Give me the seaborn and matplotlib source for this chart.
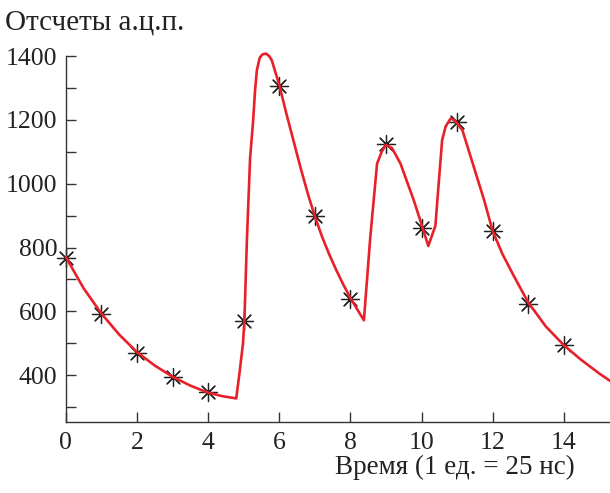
import matplotlib.pyplot as plt
import pandas as pd
import seaborn as sns

# measured points (stars)
t_pts = [0, 1, 2, 3, 4, 5, 6, 7, 8, 9, 10, 11, 12, 13, 14]
counts_pts = [768, 592, 470, 394, 347, 570, 1308, 899, 640, 1125, 862, 1193, 852, 622, 494]

# fitted curve (red)
t_fit = [0, 0.5, 1, 1.5, 2, 2.5, 3, 3.5, 4, 4.4, 4.79, 4.88, 4.98, 5.02, 5.09, 5.18, 5.26,
         5.32, 5.37, 5.45, 5.53, 5.63, 5.72, 5.79, 6.0, 6.2, 6.4, 6.6, 6.8, 7.0, 7.2, 7.4,
         7.6, 7.8, 8.0, 8.2, 8.38,
         8.56, 8.75, 8.88, 8.99, 9.17, 9.41, 9.78, 10.0, 10.19, 10.39, 10.49, 10.58, 10.68,
         10.82, 10.95, 11.15, 11.47, 11.76, 12.0, 12.27, 12.6, 13.0, 13.5, 14.0, 14.5, 15.0, 15.3]
counts_fit = [770, 672, 593, 527, 472, 430, 395, 367, 345, 334, 327, 405, 499, 572, 823, 1081, 1190,
              1293, 1356, 1395, 1406, 1408, 1400, 1387, 1310, 1220, 1135, 1050, 970, 898, 835, 780,
              730, 684, 642, 605, 572,
              833, 1063, 1100, 1122, 1112, 1063, 949, 873, 805, 868, 1011, 1137, 1180,
              1205, 1197, 1168, 1053, 949, 852, 781, 710, 628, 552, 494, 447, 405, 382]

sns.set_style("ticks")
plt.rcParams['font.family'] = ['Liberation Serif', 'DejaVu Serif']

fig = plt.figure(figsize=(6.1, 4.93), dpi=100)
ax = fig.add_axes([0.108, 0.144, 0.892, 0.742])

df_fit = pd.DataFrame({"t": t_fit, "counts": counts_fit})
df_pts = pd.DataFrame({"t": t_pts, "counts": counts_pts})

sns.scatterplot(data=df_pts, x="t", y="counts", ax=ax, marker=(8, 2, 0), s=170,
                color="#222222", edgecolor="#222222", linewidth=0.9, zorder=2, clip_on=False)
sns.lineplot(data=df_fit, x="t", y="counts", ax=ax, color="#e8202a", linewidth=1.9,
             zorder=3, sort=False, clip_on=False)

ax.set_xlim(0, 15.3)
ax.set_ylim(253, 1400)
ax.set_xticks([0, 2, 4, 6, 8, 10, 12, 14])
ax.set_yticks([400, 600, 800, 1000, 1200, 1400])
ax.set_yticks([300, 500, 700, 900, 1100, 1300], minor=True)

ax.tick_params(axis="both", which="both", direction="in", length=7, width=1.0,
               color="#333333", labelsize=18.5, labelcolor="#222222", pad=7)
ax.tick_params(axis="y", pad=6)
for side in ["left", "bottom"]:
    ax.spines[side].set_color("#333333")
    ax.spines[side].set_linewidth(1.0)
sns.despine(ax=ax)

ax.set_xlabel("")
ax.set_ylabel("")
fig.text(0.008, 0.955, "Отсчеты а.ц.п.", fontsize=21, color="#222222", va="center", ha="left")
fig.text(0.943, 0.052, "Время (1 ед. = 25 нс)", fontsize=19.5, color="#222222", va="center", ha="right")

fig.savefig("out.png", dpi=100)
